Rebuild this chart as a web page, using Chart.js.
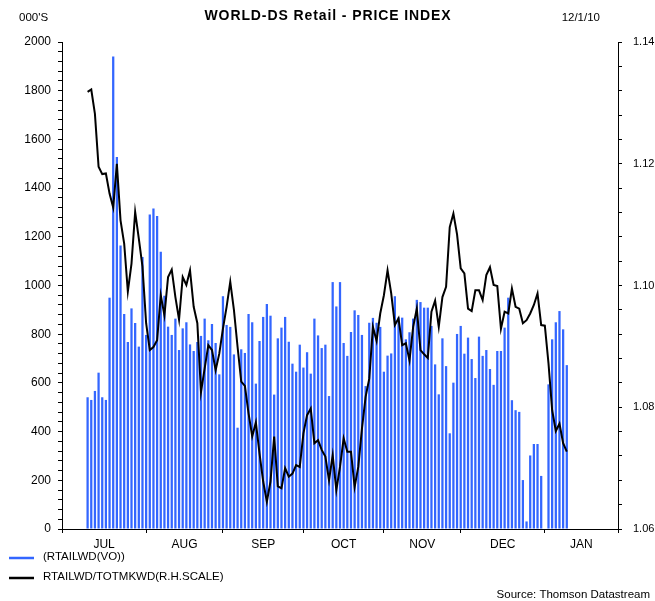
<!DOCTYPE html>
<html>
<head>
<meta charset="utf-8">
<script src="https://cdn.jsdelivr.net/npm/chart.js@4.4.0/dist/chart.umd.min.js"></script>
<style>
  html, body { margin: 0; padding: 0; background: #fff; }
</style>
</head>
<body>
<canvas id="chart" width="655" height="601"></canvas>
<script>
// trading-day slots: the axis runs 1 Jul 2009 .. end Jan 2010
const monthNames = ['JUL', 'AUG', 'SEP', 'OCT', 'NOV', 'DEC', 'JAN'];
const monthDays = [23, 21, 22, 22, 21, 23, 20];
const firstSlot = 7; // first slot with data

// RTAILWD(VO), 000's (null = 1 Jan holiday)
const volume = [
  541, 530, 567, 642, 541, 530, 950, 1940, 1528, 1164,
  883, 768, 906, 846, 749, 1117, 797, 1292, 1316, 1285,
  1139, 958, 831, 797, 864, 735, 824, 849, 758, 731,
  768, 793, 864, 775, 842, 764, 635, 956, 838, 830,
  717, 416, 738, 723, 883, 849, 597, 772, 871, 924,
  876, 552, 783, 827, 871, 769, 679, 646, 757, 663,
  726, 638, 864, 795, 743, 757, 546, 1014, 914, 1014,
  764, 711, 809, 898, 879, 797, 587, 847, 867, 847,
  830, 646, 712, 721, 956, 869, 868, 779, 808, 864,
  941, 932, 909, 909, 834, 676, 553, 783, 669, 393,
  601, 801, 834, 720, 786, 698, 620, 790, 711, 735,
  657, 592, 731, 731, 827, 950, 529, 488, 481, 201,
  31, 302, 349, 349, 218, null, 594, 779, 849, 895,
  820, 673
];

// RTAILWD/TOTMKWD, right-hand scale
const ratio = [
  1.1318, 1.1322, 1.1282, 1.1195, 1.1183, 1.1184, 1.1151, 1.1128, 1.1200, 1.1107,
  1.1069, 1.0990, 1.1036, 1.1121, 1.1077, 1.1031, 1.0938, 1.0894, 1.0899, 1.0910,
  1.0984, 1.0951, 1.1014, 1.1026, 1.0981, 1.0944, 1.1014, 1.1001, 1.1025, 1.0965,
  1.0938, 1.0825, 1.0864, 1.0902, 1.0894, 1.0861, 1.0888, 1.0929, 1.0965, 1.1006,
  1.0960, 1.0899, 1.0842, 1.0835, 1.0790, 1.0752, 1.0775, 1.0724, 1.0678, 1.0645,
  1.0678, 1.0752, 1.0670, 1.0667, 1.0700, 1.0686, 1.0691, 1.0705, 1.0702, 1.0757,
  1.0787, 1.0798, 1.0741, 1.0746, 1.0730, 1.0719, 1.0680, 1.0721, 1.0664, 1.0702,
  1.0749, 1.0727, 1.0727, 1.0669, 1.0702, 1.0765, 1.0817, 1.0847, 1.0932, 1.0909,
  1.0954, 1.0984, 1.1025, 1.0987, 1.0935, 1.0946, 1.0902, 1.0905, 1.0877, 1.0932,
  1.0962, 1.0894, 1.0887, 1.0881, 1.0957, 1.0975, 1.0932, 1.0981, 1.0998, 1.1096,
  1.1118, 1.1084, 1.1028, 1.1020, 1.0962, 1.0958, 1.0992, 1.0992, 1.0976, 1.1017,
  1.1030, 1.1001, 1.0999, 1.0929, 1.0957, 1.0954, 1.0995, 1.0965, 1.0962, 1.0938,
  1.0943, 1.0954, 1.0968, 1.0987, 1.0935, 1.0934, 1.0872, 1.0795, 1.0761, 1.0773,
  1.0741, 1.0727
];

const FONT = '"Liberation Sans", Arial, sans-serif';

// month boundaries and mid points in slot units
const bounds = [0];
monthDays.forEach(d => bounds.push(bounds[bounds.length - 1] + d));
const mids = monthNames.map((m, i) => (bounds[i] + bounds[i + 1]) / 2);
const totalSlots = bounds[bounds.length - 1];

const headerPlugin = {
  id: 'header',
  afterDraw(chart) {
    const ctx = chart.ctx;
    ctx.save();
    ctx.fillStyle = '#000';
    ctx.textBaseline = 'middle';

    ctx.font = '11.5px ' + FONT;
    ctx.textAlign = 'left';
    ctx.fillText("000'S", 19, 18);
    ctx.textAlign = 'right';
    ctx.fillText('12/1/10', 600, 18);

    ctx.font = 'bold 14px ' + FONT;
    ctx.letterSpacing = '0.9px';
    ctx.textAlign = 'center';
    ctx.fillText('WORLD-DS Retail - PRICE INDEX', 328, 16);
    ctx.letterSpacing = '0px';

    // legend
    ctx.font = '11.5px ' + FONT;
    ctx.textAlign = 'left';
    chart.data.datasets.forEach((ds, i) => {
      const y = 557 + i * 20;
      ctx.strokeStyle = ds.swatch;
      ctx.lineWidth = 2.5;
      ctx.beginPath();
      ctx.moveTo(9, y + 1);
      ctx.lineTo(34, y + 1);
      ctx.stroke();
      ctx.fillText(ds.label, 43, y);
    });

    ctx.textAlign = 'right';
    ctx.fillText('Source: Thomson Datastream', 650, 595);
    ctx.restore();
  }
};

new Chart(document.getElementById('chart'), {
  data: {
    datasets: [
      {
        type: 'bar',
        label: '(RTAILWD(VO))',
        data: volume.map((v, i) => ({ x: firstSlot + i, y: v })),
        backgroundColor: '#3366ff',
        swatch: '#3366ff',
        barPercentage: 0.62,
        categoryPercentage: 1,
        yAxisID: 'y',
        order: 2
      },
      {
        type: 'line',
        label: 'RTAILWD/TOTMKWD(R.H.SCALE)',
        data: ratio.map((v, i) => ({ x: firstSlot + i, y: v })),
        borderColor: '#000',
        swatch: '#000',
        borderWidth: 2,
        pointRadius: 0,
        tension: 0,
        yAxisID: 'y1',
        order: 1
      }
    ]
  },
  options: {
    responsive: false,
    animation: false,
    events: [],
    layout: { padding: { top: 42, bottom: 42, left: 0, right: 0 } },
    plugins: {
      legend: { display: false },
      tooltip: { enabled: false }
    },
    scales: {
      x: {
        type: 'linear',
        min: 0,
        max: totalSlots,
        offset: false,
        afterBuildTicks: scale => {
          scale.ticks = bounds.concat(mids).sort((a, b) => a - b).map(v => ({ value: v }));
        },
        afterFit: scale => { scale.height = 30; },
        ticks: {
          autoSkip: false,
          maxRotation: 0,
          padding: 4,
          color: '#000',
          font: { family: FONT, size: 12 },
          callback: v => {
            const k = mids.indexOf(v);
            return k >= 0 ? monthNames[k] : '';
          }
        },
        grid: {
          offset: false,
          drawOnChartArea: false,
          tickLength: 4,
          tickColor: ctx => bounds.includes(ctx.tick && ctx.tick.value) ? '#000' : 'rgba(0,0,0,0)'
        },
        border: { color: '#000', width: 1 }
      },
      y: {
        position: 'left',
        min: 0,
        max: 2000,
        afterFit: scale => { scale.width = 62; },
        ticks: {
          stepSize: 40,
          autoSkip: false,
          padding: 7,
          color: '#000',
          font: { family: FONT, size: 12 },
          callback: v => (v % 200 === 0 ? v : '')
        },
        grid: { drawOnChartArea: false, tickLength: 4, tickColor: '#000' },
        border: { color: '#000', width: 1 }
      },
      y1: {
        position: 'right',
        min: 1.06,
        max: 1.14,
        afterFit: scale => { scale.width = 37; },
        ticks: {
          stepSize: 0.004,
          autoSkip: false,
          padding: 11,
          color: '#000',
          font: { family: FONT, size: 11 },
          callback: v => (Math.round(v * 1000) % 20 === 0 ? v.toFixed(2) : '')
        },
        grid: { drawOnChartArea: false, tickLength: 4, tickColor: '#000' },
        border: { color: '#000', width: 1 }
      }
    }
  },
  plugins: [headerPlugin]
});
</script>
</body>
</html>
